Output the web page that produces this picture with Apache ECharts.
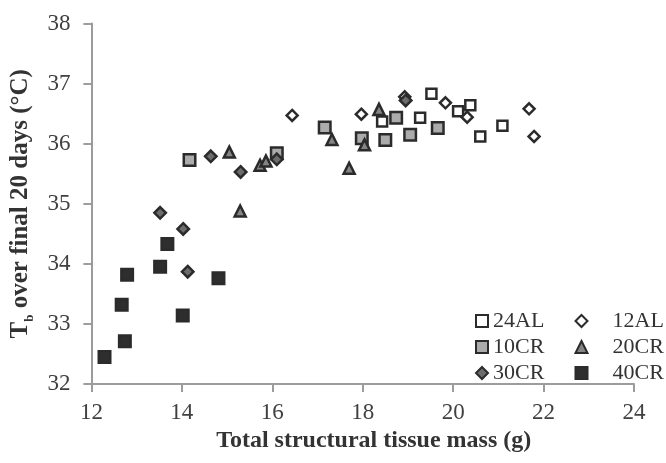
<!DOCTYPE html>
<html><head><meta charset="utf-8">
<script src="https://cdn.jsdelivr.net/npm/echarts@6/dist/echarts.min.js"></script>
<style>html,body{margin:0;padding:0;background:#fff}#c{width:666px;height:463px}</style>
</head><body><div id="c"></div>
<script>
var xTicks = [12, 14, 16, 18, 20, 22, 24];
var yTicks = [32, 33, 34, 35, 36, 37, 38];
var seriesNames = ['24AL', '12AL', '10CR', '20CR', '30CR', '40CR'];

var al24X = [18.43, 19.27, 19.52, 20.11, 20.38, 20.60, 21.09];
var al24Y = [36.37, 36.43, 36.83, 36.54, 36.64, 36.12, 36.30];
var al12X = [16.44, 17.97, 18.93, 19.83, 20.31, 21.68, 21.79];
var al12Y = [36.47, 36.49, 36.78, 36.68, 36.44, 36.58, 36.12];
var cr10X = [14.17, 16.10, 17.16, 17.98, 18.50, 18.74, 19.05, 19.66];
var cr10Y = [35.73, 35.84, 36.27, 36.09, 36.06, 36.43, 36.15, 36.26];
var cr20X = [15.05, 15.29, 15.73, 15.86, 17.32, 17.70, 18.04, 18.36];
var cr20Y = [35.86, 34.88, 35.64, 35.71, 36.07, 35.59, 35.98, 36.57];
var cr30X = [13.52, 14.03, 14.13, 14.64, 15.30, 16.10, 18.95];
var cr30Y = [34.85, 34.58, 33.87, 35.79, 35.53, 35.74, 36.72];
var cr40X = [12.29, 12.67, 12.74, 12.79, 13.52, 13.68, 14.02, 14.81];
var cr40Y = [32.45, 33.32, 32.71, 33.82, 33.95, 34.33, 33.14, 33.76];

function zip(xs, ys) { return xs.map(function (x, i) { return [x, ys[i]]; }); }

var FONT = 'Liberation Serif';
var AXIS = '#9c9c9c';
var BORDER = '#2b2b2b';

function sc(name, data, symbol, size, fill) {
  return {
    name: name, type: 'scatter', data: data, symbol: symbol, symbolSize: size,
    itemStyle: { color: fill, borderColor: BORDER, borderWidth: 2.5, opacity: 1 },
    emphasis: { disabled: true }
  };
}

var chart = echarts.init(document.getElementById('c'), null, { renderer: 'canvas' });
chart.setOption({
  animation: false,
  backgroundColor: '#fff',
  grid: { left: 86, right: 32, top: 23.5, bottom: 79, containLabel: false },
  xAxis: {
    type: 'value', min: xTicks[0], max: xTicks[xTicks.length - 1], interval: 2,
    name: 'Total structural tissue mass (g)', nameLocation: 'middle', nameGap: 39,
    nameTextStyle: { fontFamily: FONT, fontSize: 24, fontWeight: 'bold', color: '#333', padding: [0, 0, 0, 22] },
    axisLine: { lineStyle: { color: AXIS, width: 2 } },
    axisTick: { show: true, inside: false, length: 8, lineStyle: { color: AXIS, width: 2 } },
    axisLabel: { fontFamily: FONT, fontSize: 23, color: '#404040', margin: 17 },
    splitLine: { show: false }
  },
  yAxis: {
    type: 'value', min: yTicks[0], max: yTicks[yTicks.length - 1], interval: 1,
    name: '{a|T}{b|b}{a| over final 20 days (°C)}', nameLocation: 'middle', nameGap: 53.5, nameRotate: 90,
    nameTextStyle: {
      color: '#333',
      rich: {
        a: { fontFamily: FONT, fontSize: 25, fontWeight: 'bold', color: '#333', lineHeight: 32 },
        b: { fontFamily: FONT, fontSize: 13, fontWeight: 'bold', color: '#333', lineHeight: 12, verticalAlign: 'bottom' }
      }
    },
    axisLine: { show: true, lineStyle: { color: AXIS, width: 2 } },
    axisTick: { show: true, inside: false, length: 8, lineStyle: { color: AXIS, width: 2 } },
    axisLabel: { fontFamily: FONT, fontSize: 23, color: '#404040', margin: 21 },
    splitLine: { show: false }
  },
  legend: [
    {
      data: [seriesNames[0], seriesNames[2], seriesNames[4]],
      orient: 'vertical', left: 470, top: 305, itemWidth: 12, itemHeight: 12, itemGap: 4,
      selectedMode: false,
      textStyle: { fontFamily: FONT, fontSize: 22, color: '#333' }
    },
    {
      data: [seriesNames[1], seriesNames[3], seriesNames[5]],
      orient: 'vertical', left: 569.5, top: 305, itemWidth: 12, itemHeight: 12, itemGap: 4,
      selectedMode: false,
      textStyle: { fontFamily: FONT, fontSize: 22, color: '#333', padding: [0, 0, 0, 20] }
    }
  ],
  series: [
    sc(seriesNames[0], zip(al24X, al24Y), 'rect', 10, '#ffffff'),
    sc(seriesNames[1], zip(al12X, al12Y), 'diamond', 11, '#ffffff'),
    sc(seriesNames[2], zip(cr10X, cr10Y), 'rect', 11.5, '#ababab'),
    sc(seriesNames[3], zip(cr20X, cr20Y), 'triangle', 11, '#858585'),
    sc(seriesNames[4], zip(cr30X, cr30Y), 'diamond', 11.5, '#6c6c6c'),
    sc(seriesNames[5], zip(cr40X, cr40Y), 'rect', 11.5, '#2e2e2e')
  ]
});
</script></body></html>
